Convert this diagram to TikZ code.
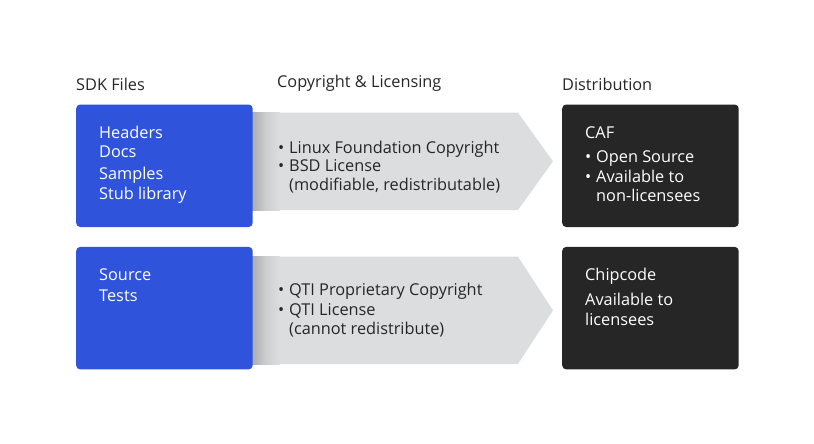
\documentclass[tikz,border=0pt]{standalone}
\usepackage{fontspec}
\setmainfont{Open Sans}
\definecolor{qblue}{HTML}{3053DB}
\definecolor{qdark}{HTML}{262626}
\definecolor{qgray}{HTML}{DCDDDE}
\definecolor{qshade}{HTML}{ABACAD}
\begin{document}
\begin{tikzpicture}[x=1pt,y=-1pt,
  txt/.style={anchor=base west,inner sep=0pt,font=\fontsize{16.3}{19}\selectfont},
  hdr/.style={txt,text=qdark},
  wtxt/.style={txt,text=white},
  gtxt/.style={txt,text=qdark},
  bluebox/.style={fill=qblue,rounded corners=4pt},
  darkbox/.style={fill=qdark,rounded corners=4pt}]
\useasboundingbox (0,0) rectangle (814,444);
% headers
\node[hdr] (h1) at (76,90) {SDK Files};
\node[hdr] (h2) at (277,88) {Copyright \& Licensing};
\node[hdr] (h3) at (562,90.5) {Distribution};
% gray arrows
\foreach \t/\b/\n in {112.7/210/a1, 256.7/364/a2}{
  \pgfmathsetmacro{\m}{(\t+\b)/2}
  \fill[qgray] (240,\t) -- (518,\t) -- (553,\m) -- (518,\b) -- (240,\b) -- cycle;
  \shade[left color=qshade,right color=qgray,middle color=qgray!70!qshade] (252,\t) rectangle (280,\b);
  \coordinate (\n) at (553,\m);
}
% blue boxes
\node[bluebox,minimum width=176.5pt,minimum height=122.5pt,anchor=north west,inner sep=0pt] (b1) at (76,104.3) {};
\node[bluebox,minimum width=176.5pt,minimum height=122.5pt,anchor=north west,inner sep=0pt] (b2) at (76,246.7) {};
% dark boxes
\node[darkbox,minimum width=176.5pt,minimum height=122.5pt,anchor=north west,inner sep=0pt] (d1) at (562,104.3) {};
\node[darkbox,minimum width=176.5pt,minimum height=122.5pt,anchor=north west,inner sep=0pt] (d2) at (562,246.7) {};
% blue box texts
\node[wtxt] (t1) at (99,138.3) {Headers};
\node[wtxt] (t2) at (99,157.3) {Docs};
\node[wtxt] (t3) at (99,179.3) {Samples};
\node[wtxt] (t4) at (99,199.3) {Stub library};
\node[wtxt] (t5) at (99,280.7) {Source};
\node[wtxt] (t6) at (99,301.7) {Tests};
% gray texts
\node[gtxt] (g1b) at (278,153) {•};
\node[gtxt] (g1) at (289,153) {Linux Foundation Copyright};
\node[gtxt] (g2b) at (278,171.7) {•};
\node[gtxt] (g2) at (289,171.7) {BSD License};
\node[gtxt] (g3) at (289,190.5) {(modifiable, redistributable)};
\node[gtxt] (g4b) at (278,295) {•};
\node[gtxt] (g4) at (289,295) {QTI Proprietary Copyright};
\node[gtxt] (g5b) at (278,315) {•};
\node[gtxt] (g5) at (289,315) {QTI License};
\node[gtxt] (g6) at (289,334) {(cannot redistribute)};
% dark box texts
\node[wtxt] (c1) at (585,138.3) {CAF};
\node[wtxt] (c2b) at (585,162.7) {•};
\node[wtxt] (c2) at (596,162.7) {Open Source};
\node[wtxt] (c3b) at (585,182.3) {•};
\node[wtxt] (c3) at (596,182.3) {Available to};
\node[wtxt] (c4) at (596,201.7) {non-licensees};
\node[wtxt] (e1) at (585,280) {Chipcode};
\node[wtxt] (e2) at (585,305.7) {Available to};
\node[wtxt] (e3) at (585,325) {licensees};
\end{tikzpicture}
\end{document}
